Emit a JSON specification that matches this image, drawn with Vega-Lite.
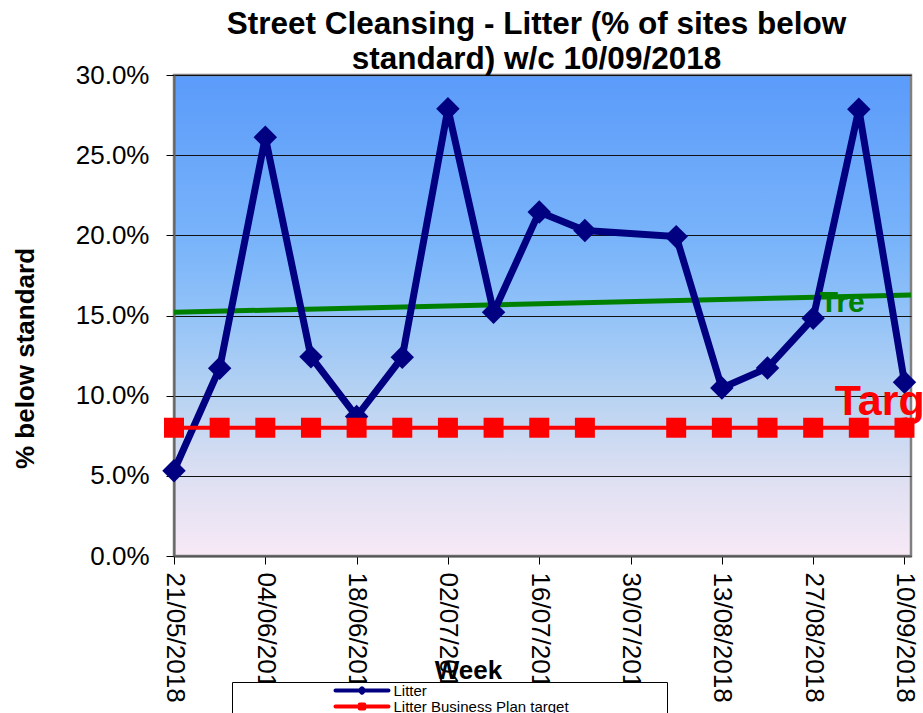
{
  "$schema": "https://vega.github.io/schema/vega-lite/v6.json",
  "width": 737,
  "height": 481,
  "autosize": {"type": "none"},
  "padding": {"left": 174, "top": 75, "right": 12, "bottom": 157},
  "background": "white",
  "view": {
    "fill": {"gradient": "linear", "x1": 0, "y1": 0, "x2": 0, "y2": 1,
      "stops": [
        {"offset": 0, "color": "#5b9bfa"},
        {"offset": 0.35, "color": "#79b4fa"},
        {"offset": 0.5, "color": "#93c3f8"},
        {"offset": 0.67, "color": "#b8d3f2"},
        {"offset": 0.83, "color": "#dcdff2"},
        {"offset": 1, "color": "#f8e9f6"}
      ]},
    "stroke": "#808080",
    "strokeWidth": 2.5
  },
  "title": {
    "text": ["Street Cleansing - Litter (% of sites below", "standard) w/c 10/09/2018"],
    "font": "Liberation Sans",
    "fontSize": 31.5,
    "fontWeight": "bold",
    "color": "black",
    "anchor": "middle",
    "dx": -6,
    "lineHeight": 35,
    "offset": -13
  },
  "datasets": {
    "litter": [
      {"date": "2018-05-21", "value": 5.32, "series": "Litter"},
      {"date": "2018-05-28", "value": 11.71, "series": "Litter"},
      {"date": "2018-06-04", "value": 26.12, "series": "Litter"},
      {"date": "2018-06-11", "value": 12.43, "series": "Litter"},
      {"date": "2018-06-18", "value": 8.7, "series": "Litter"},
      {"date": "2018-06-25", "value": 12.4, "series": "Litter"},
      {"date": "2018-07-02", "value": 27.89, "series": "Litter"},
      {"date": "2018-07-09", "value": 15.2, "series": "Litter"},
      {"date": "2018-07-16", "value": 21.46, "series": "Litter"},
      {"date": "2018-07-23", "value": 20.3, "series": "Litter"},
      {"date": "2018-08-06", "value": 19.92, "series": "Litter"},
      {"date": "2018-08-13", "value": 10.48, "series": "Litter"},
      {"date": "2018-08-20", "value": 11.73, "series": "Litter"},
      {"date": "2018-08-27", "value": 14.83, "series": "Litter"},
      {"date": "2018-09-03", "value": 27.87, "series": "Litter"},
      {"date": "2018-09-10", "value": 10.84, "series": "Litter"}
    ],
    "target": [
      {"date": "2018-05-21", "value": 8, "series": "Litter Business Plan target"},
      {"date": "2018-05-28", "value": 8, "series": "Litter Business Plan target"},
      {"date": "2018-06-04", "value": 8, "series": "Litter Business Plan target"},
      {"date": "2018-06-11", "value": 8, "series": "Litter Business Plan target"},
      {"date": "2018-06-18", "value": 8, "series": "Litter Business Plan target"},
      {"date": "2018-06-25", "value": 8, "series": "Litter Business Plan target"},
      {"date": "2018-07-02", "value": 8, "series": "Litter Business Plan target"},
      {"date": "2018-07-09", "value": 8, "series": "Litter Business Plan target"},
      {"date": "2018-07-16", "value": 8, "series": "Litter Business Plan target"},
      {"date": "2018-07-23", "value": 8, "series": "Litter Business Plan target"},
      {"date": "2018-08-06", "value": 8, "series": "Litter Business Plan target"},
      {"date": "2018-08-13", "value": 8, "series": "Litter Business Plan target"},
      {"date": "2018-08-20", "value": 8, "series": "Litter Business Plan target"},
      {"date": "2018-08-27", "value": 8, "series": "Litter Business Plan target"},
      {"date": "2018-09-03", "value": 8, "series": "Litter Business Plan target"},
      {"date": "2018-09-10", "value": 8, "series": "Litter Business Plan target"}
    ],
    "trend": [
      {"date": "2018-05-21", "value": 15.2},
      {"date": "2018-09-11", "value": 16.28}
    ],
    "trendLabel": [
      {"date": "2018-08-28", "value": 15.22, "label": "Tre"}
    ],
    "targetLabel": [
      {"date": "2018-08-30", "value": 8.8, "label": "Target"}
    ]
  },
  "encoding": {
    "x": {
      "field": "date", "type": "temporal",
      "scale": {"type": "utc", "domain": [
        {"year": 2018, "month": 5, "date": 21, "utc": true},
        {"year": 2018, "month": 9, "date": 11, "utc": true}
      ]},
      "axis": {
        "values": [
          {"year": 2018, "month": 5, "date": 21, "utc": true},
          {"year": 2018, "month": 6, "date": 4, "utc": true},
          {"year": 2018, "month": 6, "date": 18, "utc": true},
          {"year": 2018, "month": 7, "date": 2, "utc": true},
          {"year": 2018, "month": 7, "date": 16, "utc": true},
          {"year": 2018, "month": 7, "date": 30, "utc": true},
          {"year": 2018, "month": 8, "date": 13, "utc": true},
          {"year": 2018, "month": 8, "date": 27, "utc": true},
          {"year": 2018, "month": 9, "date": 10, "utc": true}
        ],
        "labelExpr": "utcFormat(datum.value, '%d/%m/%Y')",
        "labelAngle": 90, "labelAlign": "left", "labelBaseline": "middle",
        "labelFont": "Liberation Sans", "labelFontSize": 26, "labelColor": "black",
        "labelPadding": 8, "labelFlush": false, "labelOverlap": false, "labelBound": false,
        "tickSize": 8, "tickColor": "black", "tickWidth": 1,
        "domainColor": "#555555", "domainWidth": 2,
        "grid": false,
        "title": "Week",
        "titleFont": "Liberation Sans", "titleFontSize": 26, "titleFontWeight": "bold", "titleColor": "black",
        "titleX": 294, "titleY": 122, "titleBaseline": "alphabetic", "titleAlign": "center"
      }
    },
    "y": {
      "field": "value", "type": "quantitative",
      "scale": {"domain": [0, 30], "nice": false},
      "axis": {
        "values": [0, 5, 10, 15, 20, 25, 30],
        "labelExpr": "format(datum.value, '.1f') + '%'",
        "labelFont": "Liberation Sans", "labelFontSize": 26, "labelColor": "black",
        "labelPadding": 17,
        "tickSize": 8, "tickColor": "black", "tickWidth": 1,
        "domainColor": "#666666", "domainWidth": 2,
        "grid": true, "gridColor": "#111111", "gridWidth": 1,
        "title": "% below standard",
        "titleFont": "Liberation Sans", "titleFontSize": 26, "titleFontWeight": "bold", "titleColor": "black",
        "titleX": -141, "titleY": 283, "titleAngle": -90, "titleBaseline": "alphabetic", "titleAlign": "center"
      }
    }
  },
  "layer": [
    {
      "data": {"name": "trend"},
      "mark": {"type": "line", "color": "#008000", "strokeWidth": 5}
    },
    {
      "data": {"name": "litter"},
      "mark": {"type": "line", "strokeWidth": 7, "strokeJoin": "miter"},
      "encoding": {
        "color": {
          "field": "series", "type": "nominal",
          "scale": {"domain": ["Litter", "Litter Business Plan target"], "range": ["#000080", "#ff0000"]},
          "legend": {
            "orient": "none", "legendX": 58, "legendY": 607,
            "title": null, "padding": 1,
            "fillColor": "white", "strokeColor": "black",
            "labelFont": "Liberation Sans", "labelFontSize": 15, "labelColor": "black", "labelLimit": 400,
            "symbolSize": 100, "symbolOffset": 121.5, "labelOffset": 24, "rowPadding": -3,
            "symbolStrokeWidth": 4,
            "encode": {
              "symbols": {
                "update": {
                  "shape": {"signal": "datum.value === 'Litter' ? 'M-25.8,0M60.4,0M-5.3,0L5.3,0M-0.45,0L0,-0.45L0.45,0L0,0.45Z' : 'M-25.8,0M60.4,0M-5.3,0L5.3,0M-0.45,-0.4L0.45,-0.4L0.45,0.4L-0.45,0.4Z'"},
                  "fill": {"signal": "datum.value === 'Litter' ? '#000080' : '#ff0000'"},
                  "stroke": {"signal": "datum.value === 'Litter' ? '#000080' : '#ff0000'"},
                  "strokeWidth": {"value": 4},
                  "strokeCap": {"value": "round"},
                  "strokeJoin": {"value": "round"},
                  "opacity": {"value": 1},
                  "fillOpacity": {"value": 1},
                  "strokeOpacity": {"value": 1}
                }
              }
            }
          }
        }
      }
    },
    {
      "data": {"name": "litter"},
      "mark": {"type": "point", "shape": "diamond", "filled": true, "size": 550, "opacity": 1},
      "encoding": {"color": {"field": "series", "type": "nominal"}}
    },
    {
      "data": {"name": "target"},
      "mark": {"type": "line", "strokeWidth": 4},
      "encoding": {"color": {"field": "series", "type": "nominal"}}
    },
    {
      "data": {"name": "target"},
      "mark": {"type": "point", "shape": "square", "filled": true, "size": 400, "opacity": 1},
      "encoding": {"color": {"field": "series", "type": "nominal"}}
    },
    {
      "data": {"name": "trendLabel"},
      "mark": {"type": "text", "align": "left", "baseline": "alphabetic", "font": "Liberation Sans", "fontSize": 30, "fontWeight": "bold", "color": "#008000"},
      "encoding": {"text": {"field": "label"}}
    },
    {
      "data": {"name": "targetLabel"},
      "mark": {"type": "text", "align": "left", "baseline": "alphabetic", "dx": 2, "font": "Liberation Sans", "fontSize": 43, "fontWeight": "bold", "color": "#ff0000"},
      "encoding": {"text": {"field": "label"}}
    }
  ]
}
